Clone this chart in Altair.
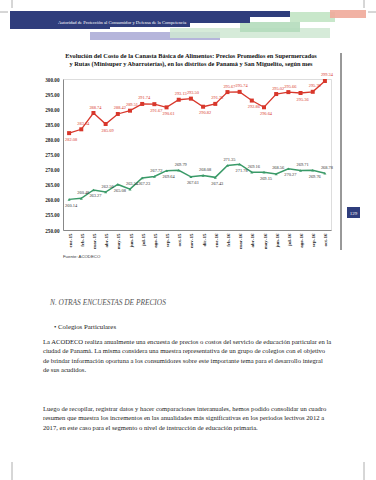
import altair as alt
import pandas as pd

# ---------------- data ----------------
months = ["ene-15", "feb-15", "mar-15", "abr-15", "may-15", "jun-15", "jul-15",
          "ago-15", "sep-15", "oct-15", "nov-15", "dic-15", "ene-16", "feb-16",
          "mar-16", "abr-16", "may-16", "jun-16", "jul-16", "ago-16", "sep-16",
          "oct-16"]
supermercados = [282.08, 283.34, 288.74, 285.09, 288.42, 289.51, 291.74, 291.67,
                 290.61, 293.13, 293.50, 290.82, 291.76, 295.67, 295.74, 292.86,
                 290.64, 295.02, 295.66, 295.36, 295.76, 299.34]
rutas = [260.14, 260.48, 263.27, 262.56, 265.08, 263.54, 267.23, 267.72,
         269.64, 269.79, 267.61, 268.08, 267.43, 271.35, 271.78, 269.16,
         269.15, 268.56, 270.27, 269.71, 269.76, 268.78]
y_ticks = [250, 255, 260, 265, 270, 275, 280, 285, 290, 295, 300]

title_line1 = "Evolución del Costo de la Canasta Básica de Alimentos: Precios Promedios en Supermercados"
title_line2 = "y Rutas (Minisuper y Abarroterías), en  los   distritos de Panamá y San Miguelito,  según mes"
source_text = "Fuente: ACODECO"
header_text = "Autoridad de Protección al Consumidor y Defensa de la Competencia"
section_text = "N. OTRAS ENCUESTAS DE PRECIOS"
bullet_text = "•  Colegios Particulares"
para1 = [
    "La ACODECO realiza anualmente una encuesta de precios o costos del servicio de educación particular en la",
    "ciudad de Panamá. La misma considera una muestra representativa de un grupo de colegios con el objetivo",
    "de brindar información oportuna a los consumidores sobre este importante tema para el desarrollo integral",
    "de sus acudidos.",
]
para2 = [
    "Luego de recopilar, registrar datos y hacer comparaciones interanuales, hemos podido consolidar un cuadro",
    "resumen que muestra los incrementos en las anualidades más significativas en los periodos lectivos 2012 a",
    "2017, en este caso para el segmento o nivel de instrucción de educación primaria.",
]
page_number = "129"

RED = "#d8372b"
GREEN = "#3a9a68"
NAVY = "#2f3d7c"
SERIF = "Liberation Serif"

# ---------------- table ----------------
rows = []
for i, (m, v) in enumerate(zip(months, supermercados)):
    above = i > 0 and v >= supermercados[i - 1]
    rows.append({"month": m, "value": v, "serie": "Supermercados",
                 "lbl": "above" if above else "below"})
for i, (m, v) in enumerate(zip(months, rutas)):
    rows.append({"month": m, "value": v, "serie": "Rutas",
                 "lbl": "above" if i % 2 == 1 else "below"})
df = pd.DataFrame(rows)
one = pd.DataFrame({"k": [0]})

x_enc = alt.X("month:N", sort=months,
              scale=alt.Scale(type="point", padding=0.5),
              axis=alt.Axis(title=None, labelAngle=-90, labelFont=SERIF,
                            labelFontSize=5, labelFontWeight="bold",
                            labelColor="#222", ticks=False, labelPadding=3,
                            domainColor="#888", domainWidth=1))
y_enc = alt.Y("value:Q",
              scale=alt.Scale(domain=[250, 300], nice=False, zero=False),
              axis=alt.Axis(title=None, values=y_ticks, format=".2f",
                            labelFont=SERIF, labelFontSize=5.2,
                            labelFontWeight="bold", labelColor="#222",
                            ticks=False, labelPadding=4, grid=False,
                            domainColor="#888", domainWidth=1))

base = alt.Chart(df).encode(x=x_enc, y=y_enc)

sup = base.transform_filter(alt.datum.serie == "Supermercados")
rut = base.transform_filter(alt.datum.serie == "Rutas")

red_line = sup.mark_line(color=RED, strokeWidth=1.3)
red_pts = sup.mark_point(shape="square", filled=True, size=16, color=RED, opacity=1)
green_line = rut.mark_line(color=GREEN, strokeWidth=1.5)
green_pts = rut.mark_point(shape="triangle-up", filled=True, size=9, color=GREEN, opacity=1)

def labels(layer, color, where, dy):
    return layer.transform_filter(alt.datum.lbl == where).mark_text(
        font=SERIF, fontSize=4.4, color=color, dy=dy, dx=2
    ).encode(text=alt.Text("value:Q", format=".2f"))

red_up = labels(sup, RED, "above", -5.5)
red_dn = labels(sup, RED, "below", 6.5)
green_up = labels(rut, "#333", "above", -5.5)
green_dn = labels(rut, "#333", "below", 6.5)

# plot area origin is at page pixel (63, 79)
OX, OY = 63, 79

def txt(text, px, py, align="left", **kw):
    return alt.Chart(one).mark_text(align=align, baseline="middle", **kw).encode(
        x=alt.value(px - OX), y=alt.value(py - OY), text=alt.value(text))

def box(x1, x2, y1, y2, color, **kw):
    return alt.Chart(one).mark_rect(color=color, **kw).encode(
        x=alt.value(x1 - OX), x2=alt.value(x2 - OX),
        y=alt.value(y1 - OY), y2=alt.value(y2 - OY))

def vline(px, y1, y2, color="#999", w=0.8):
    return alt.Chart(one).mark_rule(color=color, strokeWidth=w).encode(
        x=alt.value(px - OX), y=alt.value(y1 - OY), y2=alt.value(y2 - OY))

def hline(py, x1, x2, color="#999", w=0.8):
    return alt.Chart(one).mark_rule(color=color, strokeWidth=w).encode(
        y=alt.value(py - OY), x=alt.value(x1 - OX), x2=alt.value(x2 - OX))

header_layers = [
    box(90, 220, 32, 40, "#a3a3d2", opacity=0.8),
    box(170, 330, 28, 38, "#cfe8d2", opacity=0.85),
    box(240, 300, 22, 32, "#b4dcbb", opacity=0.9),
    box(290, 335, 12, 22, "#c2e4c4", opacity=0.9),
    box(330, 366, 10, 18, "#f0aa9a", opacity=0.9),
    box(10, 290, 11, 17, NAVY),
    box(10, 250, 17, 23, NAVY),
    box(10, 190, 23, 27, NAVY),
    box(10, 110, 27, 29, NAVY),
    txt(header_text, 58, 23, font=SERIF, fontSize=4.6, color="white"),
    vline(12, 0, 8), vline(364, 0, 8), hline(12, 0, 8), hline(12, 368, 376),
    vline(12, 462, 480), vline(364, 462, 480),
]

rule_right = vline(341, 53, 250, color="#333", w=1)

page_box = [
    box(347, 360, 207, 218, NAVY),
    txt(page_number, 353.5, 212.5, align="center", font=SERIF, fontSize=5,
        color="white"),
]

title_layers = [
    txt(title_line1, 191, 56, align="center", font=SERIF, fontSize=6.3,
        fontWeight="bold", color="#111"),
    txt(title_line2, 191, 64, align="center", font=SERIF, fontSize=6.3,
        fontWeight="bold", color="#111"),
]

text_layers = [
    txt(source_text, 63, 257, font="Liberation Sans", fontSize=4.3, color="#333"),
    txt(section_text, 50, 303, font=SERIF, fontSize=7.4, fontStyle="italic",
        color="#555"),
    txt(bullet_text, 54, 327, font=SERIF, fontSize=6.8, color="#222"),
    alt.Chart(one).mark_text(align="left", baseline="middle", font=SERIF,
                             fontSize=6.6, color="#222", lineHeight=9.3).encode(
        x=alt.value(43 - OX), y=alt.value(342 - OY), text=alt.value(para1)),
    alt.Chart(one).mark_text(align="left", baseline="middle", font=SERIF,
                             fontSize=6.6, color="#222", lineHeight=9.3).encode(
        x=alt.value(43 - OX), y=alt.value(409 - OY), text=alt.value(para2)),
]

chart = alt.layer(
    red_line, red_pts, green_line, green_pts,
    red_up, red_dn, green_up, green_dn,
    *header_layers, rule_right, *page_box, *title_layers, *text_layers,
).properties(
    width=268, height=151,
    autosize=alt.AutoSizeParams(type="none"),
    padding={"left": 63, "top": 79, "right": 45, "bottom": 250},
).configure_view(
    stroke="#cfcfcf", strokeWidth=1.5
).configure(background="white")

chart.save("out.html", embed_options={"renderer": "svg", "actions": False})
